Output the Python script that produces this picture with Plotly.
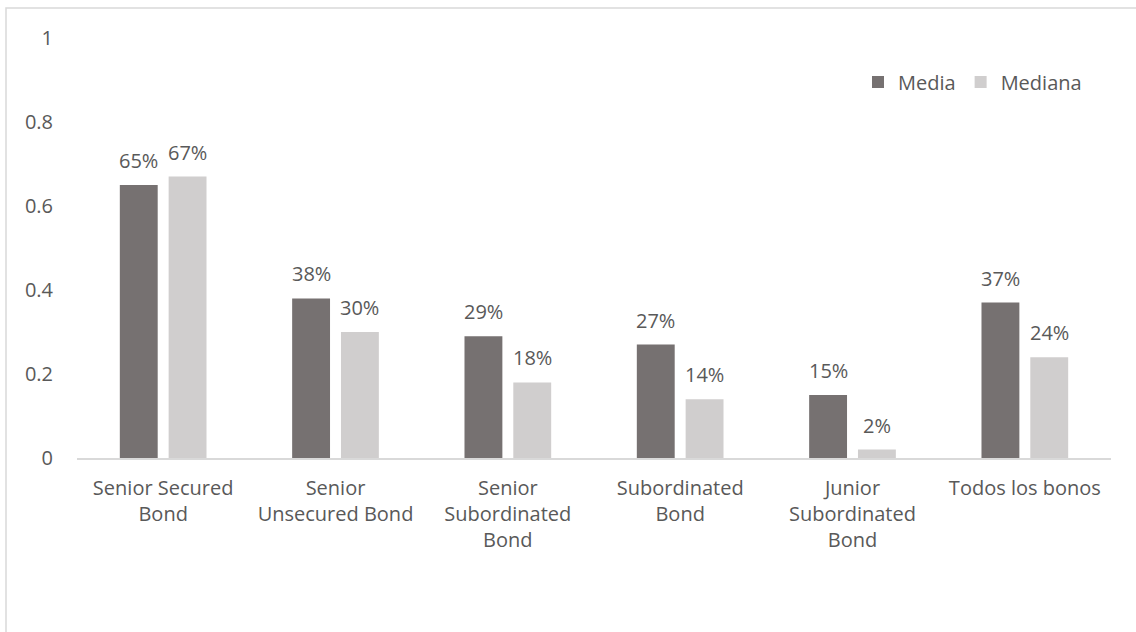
import plotly.graph_objects as go

# Category labels (line breaks as shown on the axis)
categories = [
    "Senior Secured<br>Bond",
    "Senior<br>Unsecured Bond",
    "Senior<br>Subordinated<br>Bond",
    "Subordinated<br>Bond",
    "Junior<br>Subordinated<br>Bond",
    "Todos los bonos",
]
media = [0.65, 0.38, 0.29, 0.27, 0.15, 0.37]
mediana = [0.67, 0.30, 0.18, 0.14, 0.02, 0.24]
y_ticks = [0, 0.2, 0.4, 0.6, 0.8, 1]
y_tick_labels = ["0", "0.2", "0.4", "0.6", "0.8", "1"]

DARK = "#767171"
LIGHT = "#D0CECE"
TEXT = "#595959"
LINE = "#D9D9D9"
FONT = "Open Sans"

BARGAP = 0.4335
BARGROUPGAP = 0.224

W, H = 1136, 632
ML, MR, MT, MB = 77, 25, 38, 174

x_idx = list(range(len(categories)))

fig = go.Figure()
fig.add_trace(go.Bar(name="Media", x=x_idx, y=media, marker=dict(color=DARK, line_width=0)))
fig.add_trace(go.Bar(name="Mediana", x=x_idx, y=mediana, marker=dict(color=LIGHT, line_width=0)))

# Value labels above each bar
offset = (1 - BARGAP) / 4
for series, sign in ((media, -1), (mediana, 1)):
    for i, v in enumerate(series):
        fig.add_annotation(
            x=i + sign * offset, y=v, xref="x", yref="y",
            text=f"{v:.0%}", showarrow=False,
            yanchor="bottom", yshift=9,
            font=dict(family=FONT, size=20, color=TEXT),
        )

# Outer chart frame (top and left edges visible)
pw, ph = W - ML - MR, H - MT - MB
fig.add_shape(
    type="rect", xref="paper", yref="paper",
    x0=(6 - ML) / pw, x1=(W + 10 - ML) / pw,
    y0=(H - MB - (H + 10)) / ph, y1=(H - MB - 8) / ph,
    line=dict(color=LINE, width=1.5), fillcolor="rgba(0,0,0,0)",
    layer="below",
)

fig.update_layout(
    width=W, height=H,
    margin=dict(l=ML, r=MR, t=MT, b=MB),
    paper_bgcolor="white", plot_bgcolor="white",
    barmode="group", bargap=BARGAP, bargroupgap=BARGROUPGAP,
    font=dict(family=FONT, size=20, color=TEXT),
    showlegend=True,
    legend=dict(
        orientation="h", x=(858 - ML) / pw, y=(H - MB - 82) / ph,
        xanchor="left", yanchor="middle",
        font=dict(family=FONT, size=20, color=TEXT),
        bgcolor="rgba(0,0,0,0)", itemclick=False, itemdoubleclick=False,
        traceorder="normal",
    ),
    xaxis=dict(
        tickmode="array", tickvals=x_idx, ticktext=categories,
        range=[-0.5, len(categories) - 0.5],
        showline=True, linecolor=LINE, linewidth=1.5,
        showgrid=False, zeroline=False, ticks="", ticklabelstandoff=11,
        tickfont=dict(family=FONT, size=20, color=TEXT),
    ),
    yaxis=dict(
        range=[0, 1], tickmode="array", tickvals=y_ticks, ticktext=y_tick_labels,
        showline=False, showgrid=False, zeroline=False, ticks="",
        ticklabelstandoff=23,
        tickfont=dict(family=FONT, size=20, color=TEXT),
    ),
)

fig.write_html("out.html")
